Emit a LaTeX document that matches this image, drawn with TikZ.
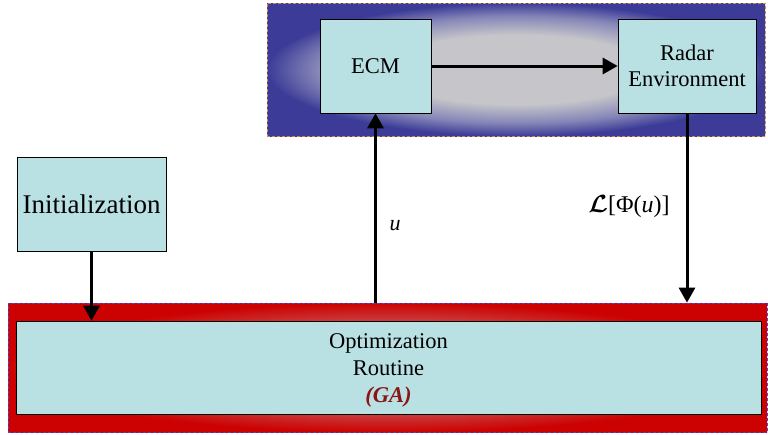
\documentclass[tikz,border=0pt]{standalone}
\usepackage{fontspec}
\setmainfont{Liberation Serif}
\usepackage{amsmath,bm}
\usetikzlibrary{arrows.meta}
\definecolor{boxcyan}{HTML}{B9E0E3}
\definecolor{pblue}{HTML}{3C3C98}
\definecolor{pgrey}{HTML}{C6C6CA}
\definecolor{pmid}{HTML}{8686B8}
\definecolor{predE}{HTML}{CC0202}
\definecolor{predC}{HTML}{CA4646}
\definecolor{gared}{HTML}{8B1414}
\definecolor{dashor}{HTML}{C8904C}
\definecolor{dashbl}{HTML}{4A4AC8}
\pgfdeclareradialshading{blueglow}{\pgfpoint{0bp}{0bp}}{color(0bp)=(pgrey); color(13bp)=(pgrey); color(20bp)=(pmid); color(25bp)=(pblue); color(50bp)=(pblue)}
\pgfdeclareradialshading{redglow}{\pgfpoint{0bp}{0bp}}{color(0bp)=(predC); color(17bp)=(predC); color(25bp)=(predE); color(50bp)=(predE)}
\tikzset{
  blk/.style={draw=black, line width=0.6pt, fill=boxcyan, inner sep=0pt, align=center, font=\fontsize{22.5}{26.5}\selectfont},
  conn/.style={line width=3pt, -{Triangle[length=15pt,width=16pt]}},
}
\begin{document}
\begin{tikzpicture}[x=1pt,y=-1pt]
\useasboundingbox (0,0) rectangle (768,434);
% top panel
\node[draw=dashor, dash pattern=on 3pt off 2pt, line width=0.7pt, shading=blueglow, minimum width=498pt, minimum height=133pt, inner sep=0pt] (top) at (516,69.5) {};
% bottom panel
\node[draw=dashbl, dash pattern=on 3pt off 2pt, line width=0.7pt, shading=redglow, minimum width=759pt, minimum height=129pt, inner sep=0pt] (bot) at (387.5,367.5) {};
% boxes
\node[blk, minimum width=111pt, minimum height=94pt] (ecm) at (375.5,66) {ECM};
\node[blk, minimum width=138pt, minimum height=94pt] (radar) at (687,66) {Radar\\Environment};
\node[blk, minimum width=149pt, minimum height=94pt, font=\fontsize{27}{30}\selectfont] (init) at (91.5,204) {Initialization};
\node[blk, minimum width=745pt, minimum height=93pt] (opt) at (388.5,367.5) {};
\node[align=center, inner sep=0pt, font=\fontsize{22.5}{27}\selectfont] (optlab) at (388.5,370.5) {Optimization\\Routine\\\textcolor{gared}{\bfseries\itshape (GA)}};
% connectors
\draw[conn] (ecm.east) -- (radar.west);
\draw[conn] (init.south) -- (init.south |- opt.north);
\draw[conn] (ecm.south |- bot.north) -- (ecm.south);
\draw[conn] (radar.south) -- (radar.south |- bot.north);
% labels
\node[font=\fontsize{22}{24}\selectfont] (ulab) at (395,226) {\textit{u}};
\node[font=\fontsize{24}{26}\selectfont] (llab) at (629,207) {$\bm{\mathcal{L}}$[Φ(\textit{u})]};
\end{tikzpicture}
\end{document}
